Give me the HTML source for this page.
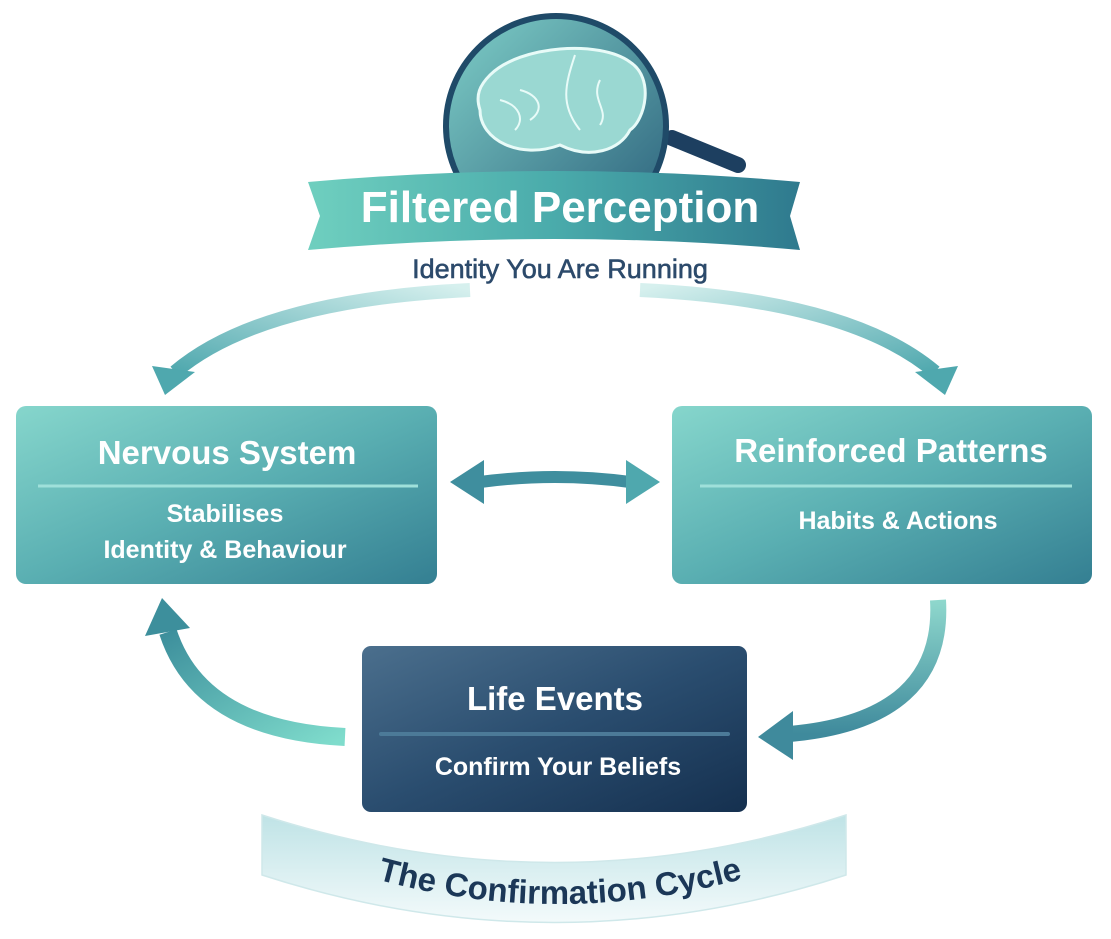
<!DOCTYPE html>
<html><head><meta charset="utf-8"><style>
body{margin:0;background:#fff;}
svg{display:block;font-family:"Liberation Sans","DejaVu Sans",sans-serif;}
</style></head><body>
<svg width="1111" height="939" viewBox="0 0 1111 939" xmlns="http://www.w3.org/2000/svg">
<defs>
<linearGradient id="teal" x1="0" y1="0" x2="1" y2="1"><stop offset="0" stop-color="#86d6cc"/><stop offset="0.5" stop-color="#5aafb2"/><stop offset="1" stop-color="#347f92"/></linearGradient>
<linearGradient id="navy" x1="0" y1="0" x2="1" y2="1"><stop offset="0" stop-color="#4b6f8d"/><stop offset="0.5" stop-color="#2a4d6f"/><stop offset="1" stop-color="#15304f"/></linearGradient>
<linearGradient id="lens" x1="0" y1="0" x2="1" y2="1"><stop offset="0" stop-color="#7fcfc8"/><stop offset="1" stop-color="#2a5f7a"/></linearGradient>
<linearGradient id="banner" x1="0" y1="0" x2="1" y2="0"><stop offset="0" stop-color="#6fcfbf"/><stop offset="0.5" stop-color="#4aabab"/><stop offset="1" stop-color="#2f7a8e"/></linearGradient>
<linearGradient id="arcL" x1="1" y1="0" x2="0" y2="1"><stop offset="0" stop-color="#d6f0ee"/><stop offset="1" stop-color="#4fa8ae"/></linearGradient>
<linearGradient id="arcR" x1="0" y1="0" x2="1" y2="1"><stop offset="0" stop-color="#d6f0ee"/><stop offset="1" stop-color="#4fa8ae"/></linearGradient>
<linearGradient id="ribbon" x1="0" y1="0" x2="0" y2="1"><stop offset="0" stop-color="#bfe3e6"/><stop offset="1" stop-color="#f3fafb"/></linearGradient>
<linearGradient id="ll" x1="1" y1="1" x2="0" y2="0"><stop offset="0" stop-color="#7fdccc"/><stop offset="1" stop-color="#3d8f9c"/></linearGradient>
<linearGradient id="rl" x1="0" y1="0" x2="0" y2="1"><stop offset="0" stop-color="#8fd8cd"/><stop offset="1" stop-color="#3f8a9c"/></linearGradient>
</defs>

<!-- magnifier -->
<line x1="672" y1="138" x2="738" y2="165" stroke="#1d3f60" stroke-width="16" stroke-linecap="round"/>
<circle cx="556" cy="126" r="110" fill="url(#lens)" stroke="#1f4a68" stroke-width="6"/>
<path d="M490 75 C520 45 600 40 630 62 C655 78 645 120 630 130 C620 150 590 160 560 145 C520 160 480 140 480 110 C475 95 480 85 490 75Z" fill="#9ad8d2" stroke="#e8fbf8" stroke-width="3"/>
<path d="M575 55 C565 85 560 105 580 130 M520 90 C540 95 545 110 530 120 M600 80 C590 100 610 110 600 125 M500 100 C520 105 525 120 515 130" fill="none" stroke="#e8fbf8" stroke-width="2"/>

<!-- banner -->
<path d="M308 182 Q555 160 800 182 L790 216 L800 250 Q555 228 308 250 L320 216 Z" fill="url(#banner)"/>
<text x="560" y="222" text-anchor="middle" font-size="44" font-weight="bold" fill="#fff">Filtered Perception</text>
<text x="560" y="278" text-anchor="middle" font-size="27" fill="#2c4a6b" stroke="#2c4a6b" stroke-width="0.6">Identity You Are Running</text>

<!-- top arcs -->
<path d="M470 290 Q260 300 175 372" fill="none" stroke="url(#arcL)" stroke-width="14"/>
<polygon points="152,366 195,372 165,395" fill="#4fa8ae"/>
<path d="M640 290 Q850 300 935 372" fill="none" stroke="url(#arcR)" stroke-width="14"/>
<polygon points="958,366 915,372 945,395" fill="#4fa8ae"/>

<!-- left box -->
<rect x="16" y="406" width="421" height="178" rx="10" fill="url(#teal)"/>
<text x="227" y="464" text-anchor="middle" font-size="33" font-weight="bold" fill="#fff">Nervous System</text>
<line x1="38" y1="486" x2="418" y2="486" stroke="#9fe0da" stroke-width="3"/>
<text x="225" y="522" text-anchor="middle" font-size="25" font-weight="bold" fill="#fff">Stabilises</text>
<text x="225" y="558" text-anchor="middle" font-size="25" font-weight="bold" fill="#fff">Identity &amp; Behaviour</text>

<!-- right box -->
<rect x="672" y="406" width="420" height="178" rx="10" fill="url(#teal)"/>
<text x="891" y="462" text-anchor="middle" font-size="33" font-weight="bold" fill="#fff">Reinforced Patterns</text>
<line x1="700" y1="486" x2="1072" y2="486" stroke="#9fe0da" stroke-width="3"/>
<text x="898" y="529" text-anchor="middle" font-size="25" font-weight="bold" fill="#fff">Habits &amp; Actions</text>

<!-- double arrow -->
<path d="M480 482 Q555 472 630 482" fill="none" stroke="#3f8e9e" stroke-width="12"/>
<polygon points="450,482 484,460 484,504" fill="#3f8e9e"/>
<polygon points="660,482 626,460 626,504" fill="#4fa8ae"/>

<!-- life events -->
<rect x="362" y="646" width="385" height="166" rx="9" fill="url(#navy)"/>
<text x="555" y="710" text-anchor="middle" font-size="33" font-weight="bold" fill="#fff">Life Events</text>
<line x1="381" y1="734" x2="728" y2="734" stroke="#4c7a98" stroke-width="4" stroke-linecap="round"/>
<text x="558" y="775" text-anchor="middle" font-size="25" font-weight="bold" fill="#fff">Confirm Your Beliefs</text>

<!-- bottom left arrow -->
<path d="M345 737 Q200 730 168 632" fill="none" stroke="url(#ll)" stroke-width="18"/>
<polygon points="145,636 162,598 190,628" fill="#3d8f9c"/>
<!-- bottom right arrow -->
<path d="M938 600 Q945 720 790 734" fill="none" stroke="url(#rl)" stroke-width="16"/>
<polygon points="758,737 793,711 793,760" fill="#3f8a9c"/>

<!-- ribbon -->
<path d="M262 815 Q555 910 846 815 L846 875 Q555 970 262 875 Z" fill="url(#ribbon)" stroke="#cfe8ea" stroke-width="1.5"/>
<path id="rp" d="M340 868 Q555 940 780 868" fill="none"/>
<text font-size="33" font-weight="bold" fill="#1b3757"><textPath href="#rp" startOffset="50%" text-anchor="middle">The Confirmation Cycle</textPath></text>
</svg>
</body></html>
